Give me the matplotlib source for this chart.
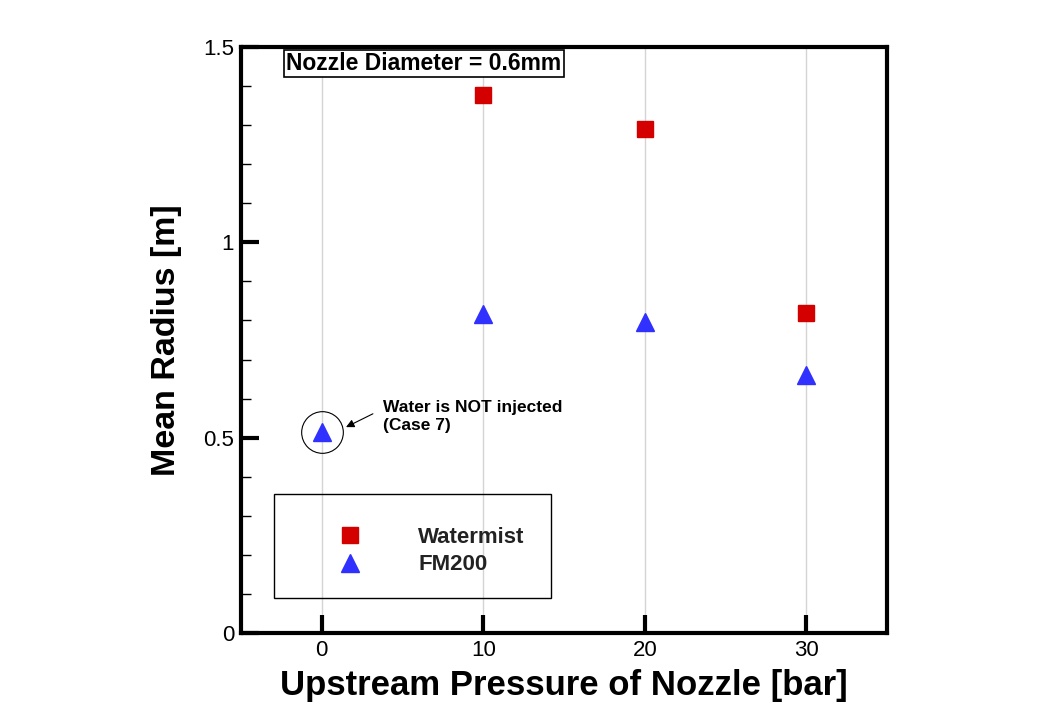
import numpy as np
import matplotlib
matplotlib.use("Agg")
import matplotlib.pyplot as plt
from matplotlib.patches import Rectangle

plt.rcParams['font.family'] = ['Liberation Sans', 'DejaVu Sans']

# data
pressure_watermist = [10, 20, 30]
radius_watermist = [1.377, 1.290, 0.819]
pressure_fm200 = [0, 10, 20, 30]
radius_fm200 = [0.514, 0.816, 0.795, 0.661]
x_ticks = [0, 10, 20, 30]
y_ticks = [0, 0.5, 1, 1.5]
y_ticklabels = ['0', '0.5', '1', '1.5']

fig = plt.figure(figsize=(10.6, 7.11), dpi=100)
ax = fig.add_axes([0.2274, 0.1097, 0.6094, 0.8242])

ax.set_xlim(-5, 35)
ax.set_ylim(0, 1.5)

# vertical grid only
for xt in x_ticks:
    ax.axvline(xt, color='#d4d4d4', lw=1.0, zorder=0)

ax.plot(pressure_watermist, radius_watermist, 's', color='#d40000', ms=11.5,
        mec='#d40000', label='Watermist', zorder=3)
ax.plot(pressure_fm200, radius_fm200, '^', color='#3030ff', ms=13,
        mec='#3030ff', label='FM200', zorder=3)

# circle around the case 7 point
ax.plot(pressure_fm200[0], radius_fm200[0], 'o', mfc='none', mec='black',
        ms=30, mew=0.8, zorder=4)
ax.annotate('Water is NOT injected\n(Case 7)', xy=(1.5, 0.527),
            xytext=(3.8, 0.553), fontsize=12.5, fontweight='bold',
            va='center', ha='left', linespacing=1.25,
            arrowprops=dict(arrowstyle='-|>', color='black', lw=0.8,
                            mutation_scale=12, shrinkA=6, shrinkB=0,
                            relpos=(0, 0.75)))

ax.text(-2.2, 1.458, 'Nozzle Diameter = 0.6mm', fontsize=16.5, fontweight='bold',
        va='center', ha='left',
        bbox=dict(boxstyle='square,pad=0.1', fc='white', ec='black', lw=1.2))

ax.set_xticks(x_ticks)
ax.set_yticks(y_ticks)
ax.set_yticklabels(y_ticklabels)
ax.set_yticks(np.arange(0.1, 1.5, 0.1), minor=True)
ax.tick_params(axis='both', which='major', direction='in', length=13, width=3,
               labelsize=16, pad=5)
ax.tick_params(axis='y', which='minor', direction='in', length=7, width=1)
ax.tick_params(axis='x', which='minor', bottom=False)

for sp in ax.spines.values():
    sp.set_linewidth(3)

ax.set_xlabel('Upstream Pressure of Nozzle [bar]', fontsize=25, fontweight='bold',
              labelpad=6)
ax.set_ylabel('Mean Radius [m]', fontsize=24.5, fontweight='bold', labelpad=15)

# legend box
ax.add_patch(Rectangle((0.051, 0.060), 0.429, 0.177, transform=ax.transAxes,
                       fill=False, ec='black', lw=1.0, zorder=2))
leg = ax.legend(loc='center left', bbox_to_anchor=(0.135, 0.140),
                frameon=False, handlelength=2, handletextpad=2.05,
                labelspacing=0.3, borderpad=0, borderaxespad=0,
                prop={'weight': 'bold', 'size': 16})
for t in leg.get_texts():
    t.set_color('#222222')

fig.savefig('out.png', dpi=100)
